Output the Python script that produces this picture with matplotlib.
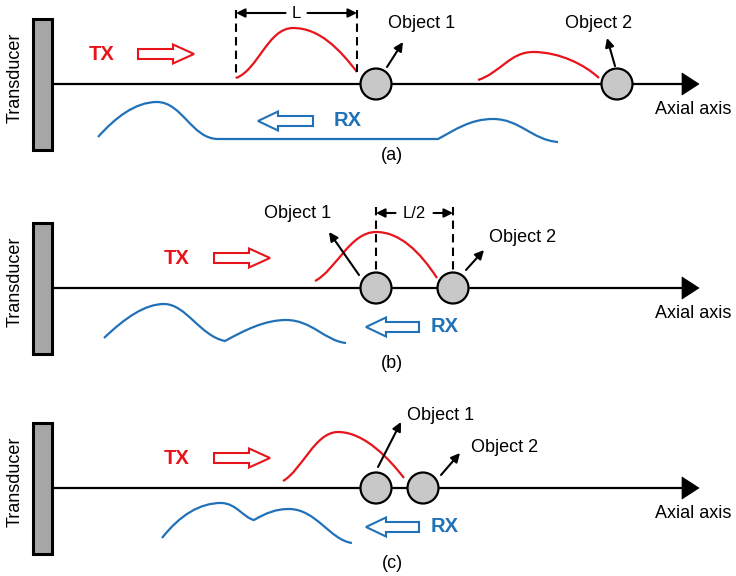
"""Schematic of TX/RX pulses and two objects along the axial axis, three spacings."""

import matplotlib.pyplot as plt
from matplotlib.patches import Circle, FancyArrow, Polygon, Rectangle
from matplotlib.path import Path
from matplotlib.patches import PathPatch

plt.rcParams["font.family"] = ["Liberation Sans", "DejaVu Sans"]

RED = "#e8141b"
BLUE = "#2171b8"

# panel data: vertical offset of each panel's axis line (pixels, y down)
panel_tags = ["(a)", "(b)", "(c)"]
axis_y = [84, 288, 488]
obj1_x = [376, 376, 376]
obj2_x = [617, 453, 423]

# object label positions (text centre) and arrow start/end, per panel
obj1_label = [(422, 23), (298, 213), (441, 415)]
obj1_arrow = [((387, 67), (403, 42)), ((359, 275), (329, 232)), ((378, 467), (401, 422))]
obj2_label = [(599, 23), (523, 238), (505, 447)]
obj2_arrow = [((615, 66), (607, 38)), ((466, 270), (484, 250)), ((441, 475), (460, 453))]

# TX / RX label x positions per panel
tx_x = [102, 177, 177]
tx_arrow = [(138, 194), (214, 270), (214, 270)]
rx_arrow = [(313, 258), (419, 366), (419, 366)]
rx_x = [348, 445, 445]
rx_dy = [37, 39, 39]
tx_dy = [-30, -30, -30]

# Bezier vertices of the transmitted (red) pulses: start, (c1, c2, end) ...
red_pulses = [
    [(236, 78), (258, 70), (268, 28), (293, 28), (320, 28), (340, 50), (357, 72)],
    [(478, 80), (500, 73), (510, 52), (533, 52), (560, 52), (585, 65), (599, 78)],
    [(315, 281), (336, 270), (350, 232), (376, 232), (400, 232), (420, 252), (437, 278)],
    [(283, 481), (302, 470), (315, 432), (338, 432), (365, 432), (390, 460), (404, 478)],
]

# Bezier vertices of the received (blue) echoes
blue_echoes = [
    [(98, 137), (115, 118), (135, 102), (157, 102), (182, 102), (192, 139), (218, 139),
     (300, 139), (360, 139), (438, 139), (455, 130), (470, 119), (493, 119),
     (520, 119), (532, 140), (558, 142)],
    [(104, 338), (125, 318), (145, 304), (164, 304), (186, 304), (200, 336), (225, 341),
     (245, 330), (265, 320), (286, 320), (312, 320), (325, 341), (346, 343)],
    [(162, 538), (180, 515), (200, 503), (221, 503), (236, 503), (244, 518), (254, 520),
     (266, 513), (276, 509), (289, 509), (316, 509), (330, 540), (352, 543)],
]


def bezier(ax, pts, color):
    codes = [Path.MOVETO] + [Path.CURVE4] * (len(pts) - 1)
    ax.add_patch(PathPatch(Path(pts, codes), fill=False, edgecolor=color, linewidth=1.6,
                           capstyle="butt"))


def dimension(ax, x0, x1, y, label, gap):
    mid = 0.5 * (x0 + x1)
    style = {"arrowstyle": "-|>", "mutation_scale": 13, "linewidth": 1.5, "color": "black",
             "shrinkA": 0, "shrinkB": 0}
    ax.annotate("", xy=(x0, y), xytext=(mid - gap, y), arrowprops=style)
    ax.annotate("", xy=(x1, y), xytext=(mid + gap, y), arrowprops=style)
    ax.text(mid, y + 1, label, ha="center", va="center", fontsize=12)


fig = plt.figure(figsize=(7.36, 5.76), dpi=100)
ax = fig.add_axes([0, 0, 1, 1])
ax.set_xlim(0, 736)
ax.set_ylim(576, 0)
ax.axis("off")

obj_style = {"arrowstyle": "-|>", "mutation_scale": 13, "linewidth": 1.5, "color": "black",
             "shrinkA": 0, "shrinkB": 0}

for i, y in enumerate(axis_y):
    # transducer
    ax.add_patch(Rectangle((33, y - 65), 19, 131, facecolor="#a6a6a6", edgecolor="black",
                           linewidth=2.2, zorder=3))
    ax.text(15, y - 6, "Transducer", rotation=90, ha="center", va="center", fontsize=13)
    # axial axis
    ax.plot([52, 684], [y, y], color="black", linewidth=1.6, zorder=1)
    ax.add_patch(Polygon([(682, y - 11), (699, y), (682, y + 11)], closed=True,
                         facecolor="black", edgecolor="black", linewidth=0.5))
    ax.text(655, y + 26, "Axial axis", ha="left", va="center", fontsize=13)
    # objects
    for cx in (obj1_x[i], obj2_x[i]):
        ax.add_patch(Circle((cx, y), 15.5, facecolor="#c8c8c8", edgecolor="black",
                            linewidth=1.6, zorder=4))
    ax.annotate("", xy=obj1_arrow[i][1], xytext=obj1_arrow[i][0], arrowprops=obj_style,
                zorder=5)
    ax.annotate("", xy=obj2_arrow[i][1], xytext=obj2_arrow[i][0], arrowprops=obj_style,
                zorder=5)
    ax.text(*obj1_label[i], "Object 1", ha="center", va="center", fontsize=13)
    ax.text(*obj2_label[i], "Object 2", ha="center", va="center", fontsize=13)
    # TX
    ax.text(tx_x[i], y + tx_dy[i], "TX", color=RED, fontweight="bold", ha="center",
            va="center", fontsize=14.5)
    x0, x1 = tx_arrow[i]
    ax.add_patch(FancyArrow(x0, y + tx_dy[i], x1 - x0, 0, width=10, head_width=19,
                            head_length=21, length_includes_head=True, fill=False,
                            edgecolor=RED, linewidth=1.5))
    # RX
    ax.text(rx_x[i], y + rx_dy[i], "RX", color=BLUE, fontweight="bold", ha="center",
            va="center", fontsize=14.5)
    x0, x1 = rx_arrow[i]
    ax.add_patch(FancyArrow(x0, y + rx_dy[i], x1 - x0, 0, width=10, head_width=19,
                            head_length=20, length_includes_head=True, fill=False,
                            edgecolor=BLUE, linewidth=1.5))
    ax.text(392, y + 71 if i == 0 else y + 75, panel_tags[i], ha="center", va="center",
            fontsize=13)

for pts in red_pulses:
    bezier(ax, pts, RED)
for pts in blue_echoes:
    bezier(ax, pts, BLUE)

# pulse length markers
dash = (0, (4, 2.5))
ax.plot([236, 236], [10, 78], color="black", linewidth=1.5, linestyle=dash)
ax.plot([357, 357], [10, 72], color="black", linewidth=1.5, linestyle=dash)
dimension(ax, 236, 357, 13, "L", 11)
ax.plot([376, 376], [207, 272], color="black", linewidth=1.5, linestyle=dash)
ax.plot([453, 453], [207, 272], color="black", linewidth=1.5, linestyle=dash)
dimension(ax, 376, 453, 213, "L/2", 19)

fig.savefig("out.png", dpi=100)
